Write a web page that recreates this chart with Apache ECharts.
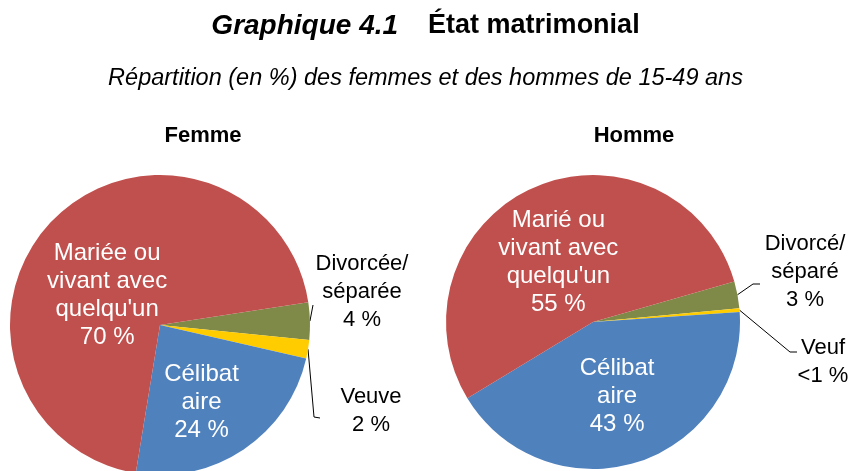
<!DOCTYPE html>
<html>
<head>
<meta charset="utf-8">
<script src="https://cdn.jsdelivr.net/npm/echarts@6/dist/echarts.min.js"></script>
<style>
  html, body { margin: 0; padding: 0; background: #fff; }
  #chart { width: 851px; height: 471px; }
</style>
</head>
<body>
<div id="chart"></div>
<script>
// slices go clockwise: divorced, widowed, single, married
var namesFemme = ['Divorcée/\nséparée', 'Veuve', 'Célibat\naire', 'Mariée ou\nvivant avec\nquelqu\'un'];
var valuesFemme = [4, 2, 24, 70];
var textFemme = ['4 %', '2 %', '24 %', '70 %'];

var namesHomme = ['Divorcé/\nséparé', 'Veuf', 'Célibat\naire', 'Marié ou\nvivant avec\nquelqu\'un'];
var valuesHomme = [3, 0.4, 43, 55];
var textHomme = ['3 %', '<1 %', '43 %', '55 %'];

var colors = ['#7F8A48', '#FFCC00', '#4F81BD', '#C0504D'];
var inside = [false, false, true, true];

var FONT = '"Liberation Sans", Arial, sans-serif';

// where the labels sit (outside ones get their own leader line)
var labelSpots = [
    [
        {x: 362, y: 292, line: [[313, 305]]},
        {x: 371, y: 411, line: [[314, 417], [320, 418]]},
        {dx: -2, dy: 13},
        {dx: 2, dy: 26}
    ],
    [
        {x: 805, y: 272, line: [[753, 284], [760, 284]]},
        {x: 823, y: 362, line: [[790, 352], [797, 352]]},
        {dx: 1, dy: 1},
        {dx: -4, dy: 10}
    ]
];

function buildData(names, values) {
    return names.map(function (n, i) {
        return {
            name: n,
            value: values[i],
            itemStyle: {color: colors[i]},
            label: inside[i]
                ? {position: 'inside', color: '#fff', fontSize: 24}
                : {position: 'outside', color: '#000', fontSize: 22},
            labelLine: {show: !inside[i]}
        };
    });
}

function pieSeries(names, values, texts, center, radius, startAngle) {
    return {
        type: 'pie',
        center: center,
        radius: radius,
        startAngle: startAngle,
        clockwise: true,
        avoidLabelOverlap: false,
        silent: true,
        animation: false,
        data: buildData(names, values),
        itemStyle: {borderWidth: 0},
        label: {
            fontFamily: FONT,
            fontSize: 22,
            lineHeight: 28,
            align: 'center',
            formatter: function (p) {
                return p.name + '\n' + texts[p.dataIndex];
            }
        },
        labelLine: {
            length: 10,
            length2: 10,
            lineStyle: {color: '#000', width: 1}
        },
        labelLayout: function (p) {
            var spot = labelSpots[p.seriesIndex][p.dataIndex];
            if (spot.line) {
                var start = p.labelLinePoints ? p.labelLinePoints[0] : spot.line[0];
                return {
                    x: spot.x,
                    y: spot.y,
                    align: 'center',
                    verticalAlign: 'middle',
                    labelLinePoints: [start].concat(spot.line.length > 1 ? spot.line : [spot.line[0], spot.line[0]])
                };
            }
            return {dx: spot.dx, dy: spot.dy};
        }
    };
}

var myChart = echarts.init(document.getElementById('chart'));

var option = {
    backgroundColor: '#fff',
    title: [
        {
            text: '{i|Graphique 4.1}{b|    État matrimonial}',
            left: 'center',
            top: 7,
            textStyle: {
                fontFamily: FONT,
                rich: {
                    i: {fontFamily: FONT, fontSize: 28, fontWeight: 'bold', fontStyle: 'italic', color: '#000'},
                    b: {fontFamily: FONT, fontSize: 27, fontWeight: 'bold', color: '#000'}
                }
            }
        },
        {
            text: 'Répartition (en %) des femmes et des hommes de 15-49 ans',
            left: 'center',
            top: 62,
            textStyle: {fontFamily: FONT, fontSize: 23.5, fontStyle: 'italic', fontWeight: 'normal', color: '#000'}
        },
        {
            text: 'Femme',
            left: 198,
            textAlign: 'center',
            top: 120,
            textStyle: {fontFamily: FONT, fontSize: 22, fontWeight: 'bold', color: '#000'}
        },
        {
            text: 'Homme',
            left: 629,
            textAlign: 'center',
            top: 120,
            textStyle: {fontFamily: FONT, fontSize: 22, fontWeight: 'bold', color: '#000'}
        }
    ],
    series: [
        pieSeries(namesFemme, valuesFemme, textFemme, [160, 325], 150, 8.7),
        pieSeries(namesHomme, valuesHomme, textHomme, [593, 322], 147, 16)
    ]
};

myChart.setOption(option);
</script>
</body>
</html>
